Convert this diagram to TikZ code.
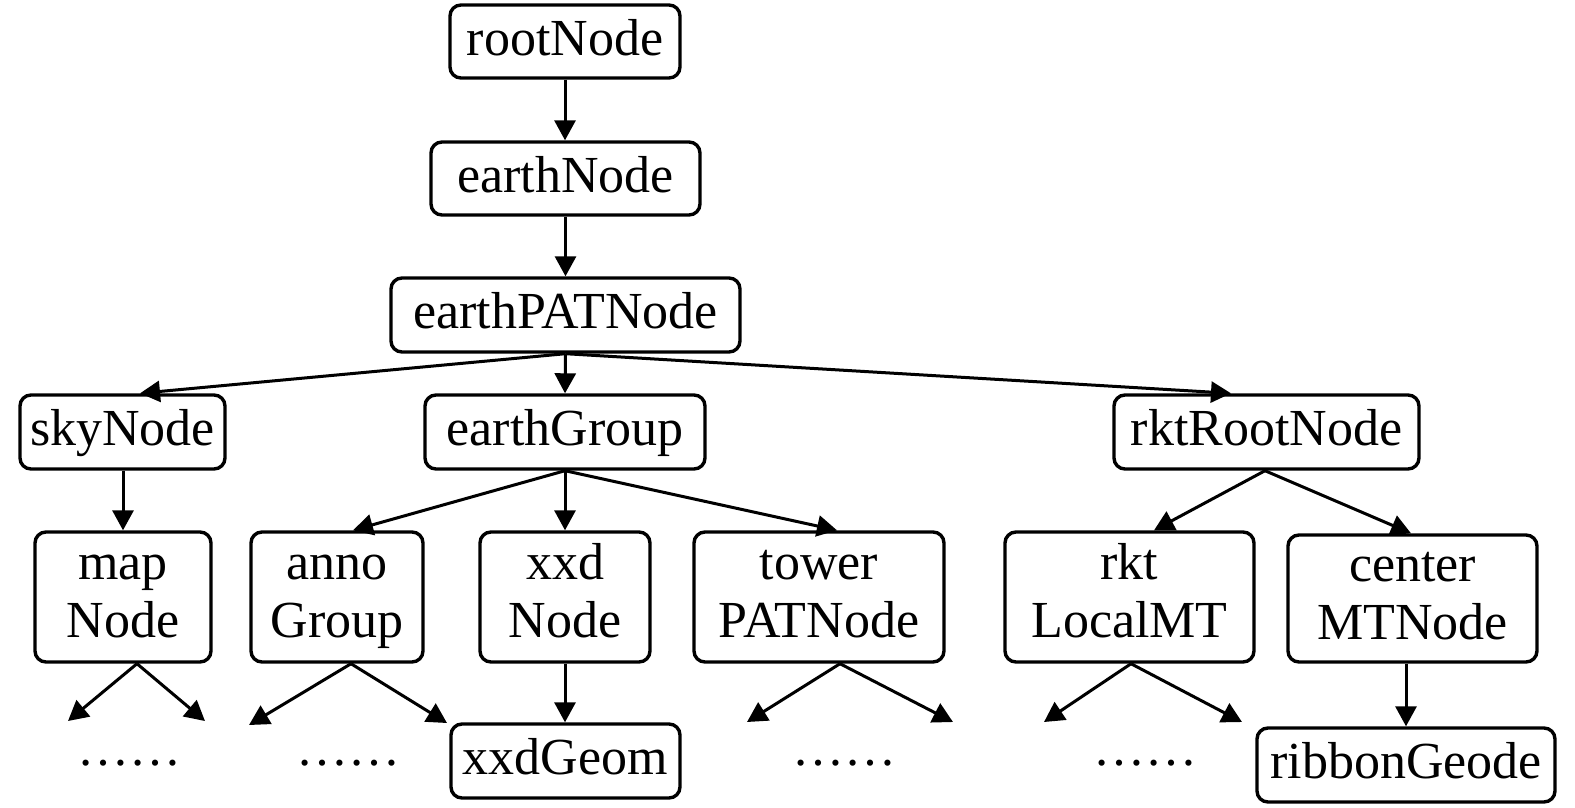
\documentclass[tikz,border=0pt]{standalone}
\usepackage{fontspec}
\setmainfont{Liberation Serif}
\usetikzlibrary{arrows.meta}
\tikzset{
  box/.style={draw, line width=3.4pt, rounded corners=11pt, inner sep=0pt,
    font=\fontsize{52}{58}\selectfont, text height=38pt, text depth=11pt},
  boxtwo/.style={draw, line width=3.4pt, rounded corners=11pt, inner sep=0pt,
    font=\fontsize{52}{58}\selectfont},
  arr/.style={line width=3pt, -{Triangle[length=20pt,width=21pt]}},
  dotsnode/.style={font=\fontsize{52}{58}\selectfont, anchor=base, inner sep=0pt}
}
\begin{document}
\begin{tikzpicture}[x=1pt,y=-1pt]
\useasboundingbox (0,0) rectangle (1575,807);
% level 0-2
\node[box, minimum width=230pt, minimum height=73pt] (root) at (565,41.5) {rootNode};
\node[box, minimum width=269pt, minimum height=73pt] (earth) at (565.5,178.5) {earthNode};
\node[box, minimum width=349pt, minimum height=74pt] (earthPAT) at (565.5,315) {earthPATNode};
% level 3
\node[box, minimum width=205pt, minimum height=74pt] (sky) at (122.5,432) {skyNode};
\node[box, minimum width=280pt, minimum height=74pt] (earthGroup) at (565,432) {earthGroup};
\node[box, minimum width=305pt, minimum height=74pt] (rktRoot) at (1266.5,432) {rktRootNode};
% level 4
\node[boxtwo, minimum width=176pt, minimum height=130pt] (map) at (123,597) {\begin{tabular}{@{}c@{}}map\\Node\end{tabular}};
\node[boxtwo, minimum width=172pt, minimum height=130pt] (anno) at (337,597) {\begin{tabular}{@{}c@{}}anno\\Group\end{tabular}};
\node[boxtwo, minimum width=170pt, minimum height=130pt] (xxdNode) at (565,597) {\begin{tabular}{@{}c@{}}xxd\\Node\end{tabular}};
\node[boxtwo, minimum width=250pt, minimum height=130pt] (tower) at (819,597) {\begin{tabular}{@{}c@{}}tower\\PATNode\end{tabular}};
\node[boxtwo, minimum width=249pt, minimum height=130pt] (rktLocal) at (1129.5,597) {\begin{tabular}{@{}c@{}}rkt\\LocalMT\end{tabular}};
\node[boxtwo, minimum width=249pt, minimum height=127pt] (centerMT) at (1412.5,598.5) {\begin{tabular}{@{}c@{}}center\\MTNode\end{tabular}};
% level 5
\node[box, minimum width=229pt, minimum height=74pt] (xxdGeom) at (565.5,761) {xxdGeom};
\node[box, minimum width=298pt, minimum height=74pt] (ribbon) at (1406,765) {ribbonGeode};
% dots
\node[dotsnode] (d1) at (129,765) {……};
\node[dotsnode] (d2) at (348,765) {……};
\node[dotsnode] (d3) at (844,765) {……};
\node[dotsnode] (d4) at (1145.5,765) {……};
% free ends
\coordinate (m1) at (68,721);
\coordinate (m2) at (205,721);
\coordinate (a1) at (249,725);
\coordinate (a2) at (447,723);
\coordinate (t1) at (747,722);
\coordinate (t2) at (953,722);
\coordinate (r1) at (1044,722);
\coordinate (r2) at (1242,722);
% connectors
\draw[arr] (root.south) -- (earth.north -| root.south);
\draw[arr] (earth.south) -- (earthPAT.north -| earth.south);
\draw[arr] (earthPAT.south) -- ([xshift=17.5pt]sky.north);
\draw[arr] (earthPAT.south) -- (earthGroup.north);
\draw[arr] (earthPAT.south) -- ([xshift=-35.5pt]rktRoot.north);
\draw[arr] (sky.south -| map.north) -- (map.north);
\draw[arr] (earthGroup.south) -- ([xshift=16pt]anno.north);
\draw[arr] (earthGroup.south) -- (xxdNode.north);
\draw[arr] (earthGroup.south) -- ([xshift=18pt]tower.north);
\draw[arr] ([xshift=-1.5pt]rktRoot.south) -- ([xshift=24.5pt]rktLocal.north);
\draw[arr] ([xshift=-1.5pt]rktRoot.south) -- ([xshift=-1.5pt]centerMT.north);
\draw[arr] ([xshift=14pt]map.south) -- (m1);
\draw[arr] ([xshift=14pt]map.south) -- (m2);
\draw[arr] ([xshift=14pt]anno.south) -- (a1);
\draw[arr] ([xshift=14pt]anno.south) -- (a2);
\draw[arr] (xxdNode.south) -- (xxdGeom.north -| xxdNode.south);
\draw[arr] ([xshift=21pt]tower.south) -- (t1);
\draw[arr] ([xshift=21pt]tower.south) -- (t2);
\draw[arr] ([xshift=1.5pt]rktLocal.south) -- (r1);
\draw[arr] ([xshift=1.5pt]rktLocal.south) -- (r2);
\draw[arr] (centerMT.south -| ribbon.north) -- (ribbon.north);
\end{tikzpicture}
\end{document}
